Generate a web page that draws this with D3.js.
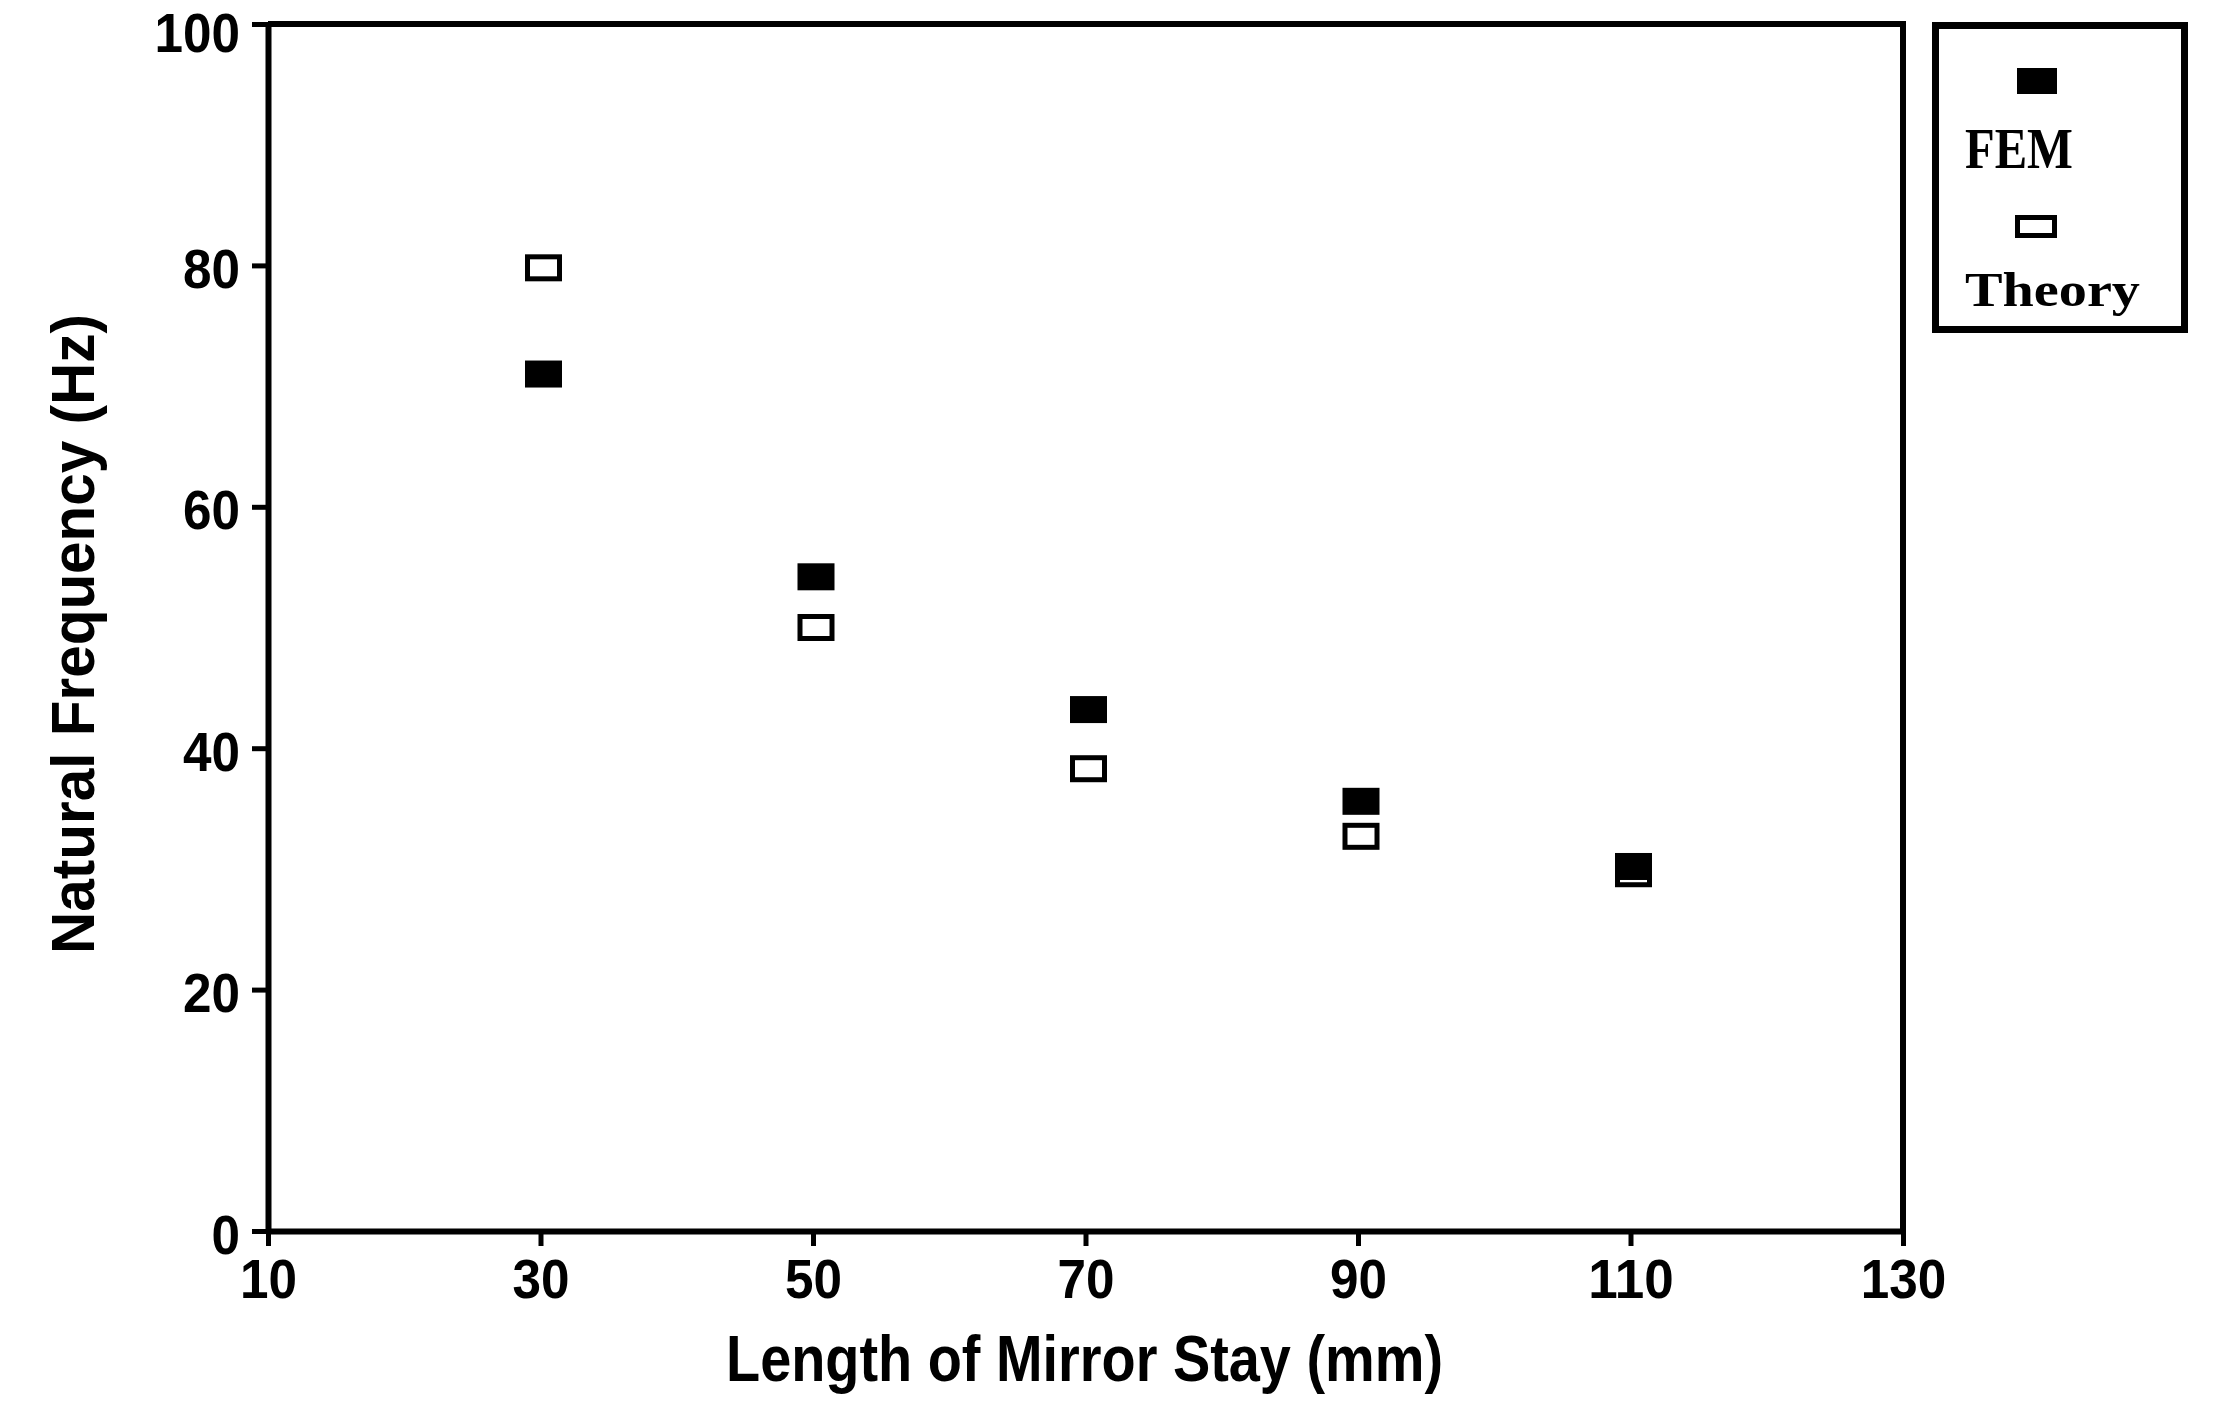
<!DOCTYPE html>
<html>
<head>
<meta charset="utf-8">
<script src="https://cdn.jsdelivr.net/npm/d3@7"></script>
<style>
  html, body { margin: 0; padding: 0; background: #fff; }
  svg { display: block; }
</style>
</head>
<body>
<svg id="chart" width="2216" height="1403"></svg>
<script>
// ---- data ----
const categories = [30, 50, 70, 90, 110];               // Length of Mirror Stay (mm)
const femValues = [71.0, 54.2, 43.2, 35.6, 30.2];       // FEM natural frequency (Hz)
const theoryValues = [79.8, 50.0, 38.3, 32.7, 29.6];    // Theory natural frequency (Hz)
const xTickValues = [10, 30, 50, 70, 90, 110, 130];
const yTickValues = [0, 20, 40, 60, 80, 100];
const seriesNames = ["FEM", "Theory"];
const xTitle = "Length of Mirror Stay (mm)";
const yTitle = "Natural Frequency (Hz)";

// ---- layout ----
const svg = d3.select("#chart");
const L = 268, R = 1903, T = 24, B = 1231;
const x = d3.scaleLinear().domain([10, 130]).range([L, R]);
const y = d3.scaleLinear().domain([0, 100]).range([B, T]);
const axisFont = "'Liberation Sans', Arial, sans-serif";
const serifFont = "'Liberation Serif', 'Times New Roman', serif";

// frame (top and right sides)
svg.append("path")
  .attr("d", `M${L},${T} H${R} V${B}`)
  .attr("fill", "none").attr("stroke", "#000").attr("stroke-width", 6);

// x axis
const xAxis = svg.append("g")
  .attr("transform", `translate(0,${B})`)
  .call(d3.axisBottom(x).tickValues(xTickValues).tickSizeInner(15).tickSizeOuter(0).tickPadding(12).tickFormat(d3.format("d")));
// y axis
const yAxis = svg.append("g")
  .attr("transform", `translate(${L},0)`)
  .call(d3.axisLeft(y).tickValues(yTickValues).tickSizeInner(16).tickSizeOuter(0).tickPadding(12).tickFormat(d3.format("d")));

[xAxis, yAxis].forEach(g => {
  g.select(".domain").attr("stroke", "#000").attr("stroke-width", 6);
  g.selectAll(".tick line").attr("stroke", "#000").attr("stroke-width", 5);
  g.selectAll(".tick text")
    .attr("fill", "#000")
    .style("font-family", axisFont)
    .style("font-weight", "bold")
    .style("font-size", "55px")
    .attr("textLength", d => String(d).length * 28.5)
    .attr("lengthAdjust", "spacingAndGlyphs");
});
xAxis.selectAll(".tick text").attr("dy", "0.72em");
yAxis.selectAll(".tick text").attr("dy", d => d === 100 ? "0.5em" : "0.40em");

// axis titles
svg.append("text")
  .attr("x", (L + R) / 2 - 1).attr("y", 1381)
  .attr("text-anchor", "middle")
  .style("font-family", axisFont).style("font-weight", "bold").style("font-size", "64px")
  .attr("textLength", 717).attr("lengthAdjust", "spacingAndGlyphs")
  .text(xTitle);

svg.append("text")
  .attr("transform", `translate(94,634) rotate(-90)`)
  .attr("text-anchor", "middle")
  .style("font-family", axisFont).style("font-weight", "bold").style("font-size", "62px")
  .attr("textLength", 640).attr("lengthAdjust", "spacingAndGlyphs")
  .text(yTitle);

// markers
const mw = 37, mh = 27;
const theoryData = categories.map((c, i) => ({ x: c, v: theoryValues[i] }));
const femData = categories.map((c, i) => ({ x: c, v: femValues[i] }));

svg.append("g").selectAll("rect").data(theoryData).join("rect")
  .attr("x", d => x(d.x) - mw / 2 + 2.5 + 3)
  .attr("y", d => y(d.v) - mh / 2 + 2.5)
  .attr("width", mw - 5).attr("height", mh - 5)
  .attr("fill", "#fff").attr("stroke", "#000").attr("stroke-width", 5);

svg.append("g").selectAll("rect").data(femData).join("rect")
  .attr("x", d => x(d.x) - mw / 2 + 3)
  .attr("y", d => y(d.v) - mh / 2)
  .attr("width", mw).attr("height", mh)
  .attr("fill", "#000");

// legend
const lg = svg.append("g");
lg.append("rect")
  .attr("x", 1935.5).attr("y", 25.5).attr("width", 249).attr("height", 304)
  .attr("fill", "#fff").attr("stroke", "#000").attr("stroke-width", 7);
lg.append("rect")
  .attr("x", 2017).attr("y", 68).attr("width", 40).attr("height", 26)
  .attr("fill", "#000");
lg.append("text")
  .attr("x", 1965).attr("y", 168)
  .style("font-family", serifFont).style("font-weight", "bold").style("font-size", "58px")
  .attr("textLength", 108).attr("lengthAdjust", "spacingAndGlyphs")
  .text(seriesNames[0]);
lg.append("rect")
  .attr("x", 2017.5).attr("y", 217.5).attr("width", 37).attr("height", 18)
  .attr("fill", "#fff").attr("stroke", "#000").attr("stroke-width", 5);
lg.append("text")
  .attr("x", 1965).attr("y", 306)
  .style("font-family", serifFont).style("font-weight", "bold").style("font-size", "48px")
  .attr("textLength", 175).attr("lengthAdjust", "spacingAndGlyphs")
  .text(seriesNames[1]);
</script>
</body>
</html>
